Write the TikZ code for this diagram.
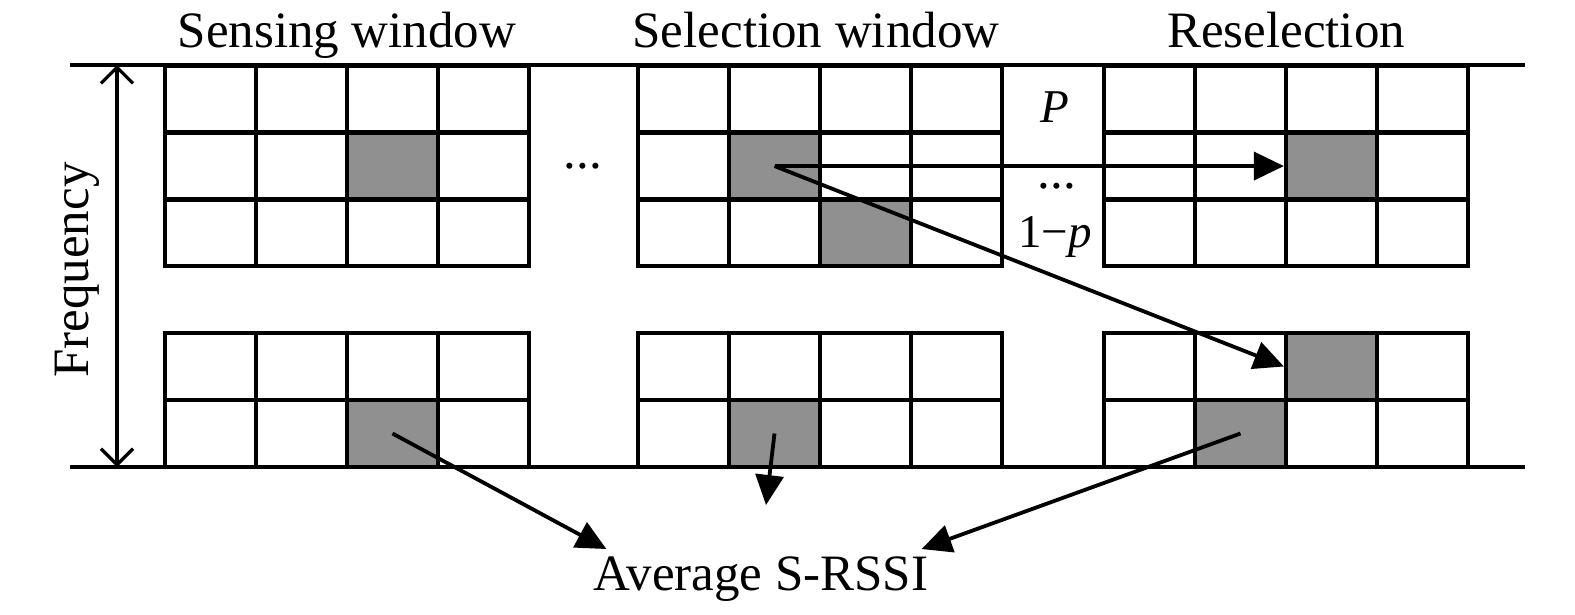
\documentclass[tikz,border=0pt]{standalone}
\usepackage{fontspec}
\setmainfont{Liberation Serif}
\usetikzlibrary{arrows.meta,backgrounds}
\definecolor{slotgray}{RGB}{145,144,145}
\tikzset{
  slot/.style={draw, line width=4.2pt, minimum width=91pt, minimum height=67pt, inner sep=0pt},
  rule/.style={line width=3.4pt},
  arr/.style={line width=3.8pt, -{Triangle[length=30pt,width=28pt]}},
  lbl/.style={font=\fontsize{51}{60}\selectfont, anchor=base, inner sep=0pt},
  small/.style={lbl, font=\fontsize{47}{56}\selectfont},
}
\begin{document}
\begin{tikzpicture}[x=1pt,y=-1pt]
\useasboundingbox (0,0) rectangle (1575,614);

\draw[rule] (70,65) -- (1525,65);
\draw[rule] (70,467) -- (1525,467);

\foreach \g/\x in {sen/165, sel/638, res/1104}
  \foreach \r in {1,2,3}
    \foreach \c in {1,...,4}
      \node[slot] (\g-\r-\c) at (\x+91*\c-45.5, 66+66.7*\r-33.35) {};

\foreach \g/\x in {senb/165, selb/638, resb/1104}
  \foreach \r in {1,2}
    \foreach \c in {1,...,4}
      \node[slot] (\g-\r-\c) at (\x+91*\c-45.5, 333+67*\r-33.5) {};

\begin{pgfonlayer}{background}
\foreach \n in {sen-2-3, sel-2-2, sel-3-3, res-2-3, senb-2-3, selb-2-2, resb-1-3, resb-2-2}
  \fill[slotgray] (\n.north west) rectangle (\n.south east);
\end{pgfonlayer}

\node[lbl] (sensing) at (347,47) {Sensing window};
\node[lbl] (selection) at (816,47) {Selection window};
\node[lbl] (resel) at (1286,47) {Reselection};
\node[lbl, rotate=90] (freq) at (88,270) {Frequency};
\node[lbl] (avg) at (761,590) {Average S-RSSI};
\node[small, font=\fontsize{47}{56}\selectfont\itshape] (prob) at (1055,122) {P};
\node[small] (notprob) at (1055,247) {1−\textit{p}};
\node[lbl] (dotsa) at (583,168) {...};
\node[lbl] (dotsb) at (1057,188) {...};

\coordinate (ftop) at (117,65);
\coordinate (fbot) at (117,467);
\draw[line width=3.2pt, {Straight Barb[length=16pt,width=32pt]}-{Straight Barb[length=16pt,width=32pt]}] (ftop) -- (fbot);

\draw[arr] (sel-2-2.center) -- (res-2-3.west);
\draw[arr] (sel-2-2.center) -- (resb-1-3.west);
\draw[arr] (senb-2-3.center) -- ([xshift=13pt,yshift=7pt]avg.north west);
\coordinate (avgin) at (766,505);
\draw[arr] (selb-2-2.center) -- (avgin);
\draw[arr] (resb-2-2.center) -- ([xshift=-7pt,yshift=7pt]avg.north east);

\end{tikzpicture}
\end{document}
